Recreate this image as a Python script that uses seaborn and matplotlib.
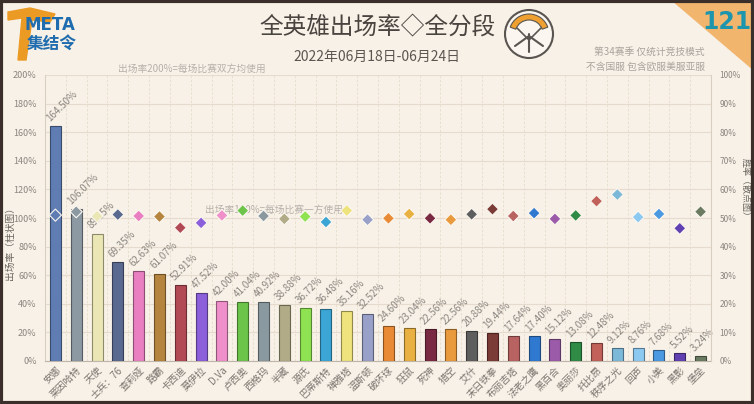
import numpy as np
import pandas as pd
import matplotlib
matplotlib.use("Agg")
import matplotlib.pyplot as plt
import matplotlib.patches as mpatches
from matplotlib.colors import to_rgb
import seaborn as sns

heroes = ["安娜", "莱因哈特", "天使", "士兵：76", "查莉娅", "路霸", "卡西迪", "莫伊拉", "D.Va", "卢西奥",
          "西格玛", "半藏", "源氏", "巴蒂斯特", "禅雅塔", "温斯顿", "破坏球", "狂鼠", "死神", "猎空",
          "艾什", "末日铁拳", "布丽吉塔", "法老之鹰", "黑百合", "奥丽莎", "托比昂", "秩序之光", "回声", "小美",
          "黑影", "堡垒"]
pick_rate = [164.50, 106.07, 89.15, 69.35, 62.63, 61.07, 52.91, 47.52, 42.00, 41.04,
             40.92, 38.88, 36.72, 36.48, 35.16, 32.52, 24.60, 23.04, 22.56, 22.56,
             20.88, 19.44, 17.64, 17.40, 15.12, 13.08, 12.48, 9.12, 8.76, 7.68,
             5.52, 3.24]
win_rate = [51.0, 52.2, 50.6, 51.2, 50.7, 50.5, 46.6, 48.3, 50.9, 52.6,
            50.7, 49.7, 50.5, 48.6, 52.6, 49.4, 49.9, 51.4, 49.9, 49.4,
            51.3, 53.1, 50.7, 51.7, 49.7, 50.9, 55.9, 58.2, 50.3, 51.4,
            46.4, 52.2]
colors = ["#5f7db3", "#8d99a2", "#ebe7b4", "#5a6990", "#e97fc0", "#b58540", "#b24a56", "#8b60da", "#ef90ca", "#6cc44b",
          "#8a98a0", "#b1ab87", "#8fe252", "#3ba6d6", "#eee37c", "#99a1c9", "#e98b36", "#e9b142", "#7a2942", "#e99a3c",
          "#5e5e5e", "#7b3b36", "#b96262", "#3079d0", "#9b5ba9", "#2f8b46", "#c1615a", "#7cb9d9", "#8cc9f1", "#4a99e1",
          "#6141b1", "#6b7b62"]
left_ticks = [0, 20, 40, 60, 80, 100, 120, 140, 160, 180, 200]
right_ticks = [0, 10, 20, 30, 40, 50, 60, 70, 80, 90, 100]

BG = "#f8f1e7"
sns.set_theme(style="white")
plt.rcParams["font.family"] = ["Noto Sans CJK SC", "DejaVu Sans"]

df = pd.DataFrame({"hero": heroes, "pick": pick_rate, "win": win_rate})
df["pos"] = np.arange(len(df))

fig = plt.figure(figsize=(7.54, 4.04), dpi=100, facecolor=BG)
ax = fig.add_axes([45 / 754, 43 / 404, 666 / 754, 286 / 404])
ax.set_facecolor(BG)

sns.barplot(data=df, x="hero", y="pick", hue="hero", palette=colors, legend=False,
            width=0.53, saturation=1, ax=ax, zorder=3)
for p, c in zip(ax.patches, colors):
    r, g, b = to_rgb(c)
    p.set_edgecolor((r * 0.6, g * 0.6, b * 0.6))
    p.set_linewidth(0.8)

ax.set_xlim(-0.5, len(heroes) - 0.5)
ax.set_ylim(0, 200)
ax.set_yticks(left_ticks)
ax.set_yticklabels([f"{t}%" for t in left_ticks], fontsize=6.5, color="#8a8580")
ax.set_xticks(range(len(heroes)))
ax.set_xticklabels(heroes, rotation=45, ha="right", rotation_mode="anchor", fontsize=7, color="#7a7570")
ax.tick_params(axis="x", length=0, pad=3)
ax.tick_params(axis="y", length=0, pad=6)
ax.set_xlabel("")
ax.set_ylabel("出场率（柱状图）", fontsize=7, color="#6a6560")
ax.yaxis.set_label_coords(-0.045, 0.42)

# grid
for t in left_ticks:
    ax.axhline(t, color="#e6dccd", lw=0.8, zorder=0)
for k in range(len(heroes) + 1):
    ax.axvline(k - 0.5, color="#e6dccd", lw=0.6, ls=(0, (3, 2)), zorder=0)
for s in ["top", "right"]:
    ax.spines[s].set_visible(False)
ax.spines["left"].set_color("#d8cfc2")
ax.spines["bottom"].set_color("#bdb5aa")
ax.spines["left"].set_linewidth(0.8)
ax.spines["bottom"].set_linewidth(0.8)

for i, v in enumerate(pick_rate):
    ax.annotate(f"{v:.2f}%", (i, v), xytext=(-8, 2), textcoords="offset points",
                rotation=45, ha="left", va="bottom", fontsize=7, color="#8a8580", zorder=5)

ax.text(3.0, 200.5, "出场率200%=每场比赛双方均使用", fontsize=7, color="#b5b0aa", va="bottom", ha="left")
ax.text(7.2, 102, "出场率100%=每场比赛一方使用", fontsize=7, color="#b5b0aa", va="bottom", ha="left", zorder=2)

ax2 = ax.twinx()
sns.scatterplot(data=df, x="pos", y="win", hue="hero", palette=colors, legend=False,
                marker="D", s=38, edgecolor="#fbf7f0", linewidth=0.8, ax=ax2, zorder=6)
ax2.set_ylim(0, 100)
ax2.set_xlim(-0.5, len(heroes) - 0.5)
ax2.set_yticks(right_ticks)
ax2.set_yticklabels([f"{t}%" for t in right_ticks], fontsize=6, color="#8a8580")
ax2.tick_params(axis="y", length=0, pad=6)
ax2.set_ylabel("胜率（散点图）", fontsize=6.5, color="#6a6560", rotation=-90, va="center")
ax2.yaxis.set_label_coords(1.052, 0.6)
ax2.set_xlabel("")
for s in ["top", "left", "bottom"]:
    ax2.spines[s].set_visible(False)
ax2.spines["right"].set_color("#d8cfc2")
ax2.spines["right"].set_linewidth(0.8)
ax2.grid(False)

# titles
fig.text(378 / 754, 1 - 28 / 404, "全英雄出场率◇全分段", fontsize=17, color="#4a4440", ha="center", va="center")
fig.text(377 / 754, 1 - 57 / 404, "2022年06月18日-06月24日", fontsize=10, color="#5a5550", ha="center", va="center")
fig.text(705 / 754, 1 - 52 / 404, "第34赛季 仅统计竞技模式", fontsize=7, color="#a8a39d", ha="right", va="center")
fig.text(705 / 754, 1 - 67 / 404, "不含国服 包含欧服美服亚服", fontsize=7, color="#a8a39d", ha="right", va="center")

# overlay for decorations in pixel coords
ov = fig.add_axes([0, 0, 1, 1], facecolor="none")
ov.set_xlim(0, 754)
ov.set_ylim(404, 0)
ov.axis("off")
# top-right triangle
ov.add_patch(mpatches.Polygon([[672, 0], [754, 0], [754, 70]], closed=True, color="#f2b56e", zorder=1))
ov.text(727, 22, "121", fontsize=17, fontweight="bold", color="#1d95ad", ha="center", va="center",
        family="DejaVu Sans", zorder=2)
# overwatch-like emblem
ov.add_patch(mpatches.Circle((529, 34), 24, facecolor="#fbf7f0", edgecolor="#5a5550", lw=1.5, zorder=1))
ov.add_patch(mpatches.Wedge((529, 34), 20, 200, 340, width=6, facecolor="#f0a030", edgecolor="#5a5550", lw=0.8, zorder=2))
ov.plot([529, 529], [34, 52], color="#5a5550", lw=1.5, zorder=3)
ov.plot([515, 529, 543], [46, 36, 46], color="#5a5550", lw=1.5, zorder=3)
ov.plot([517, 529, 541], [28, 40, 28], color="#5a5550", lw=1.2, zorder=3)
# META logo
ov.add_patch(mpatches.Polygon([[8, 12], [30, 8], [55, 14], [50, 22], [32, 20], [26, 60], [18, 60], [22, 18], [8, 20]],
                              closed=True, color="#eb9a24", zorder=1))
ov.text(50, 25, "META", fontsize=12, fontweight="bold", color="#1f6cae", ha="center", va="center",
        family="DejaVu Sans", zorder=2)
ov.text(52, 44, "集结令", fontsize=12, fontweight="bold", color="#1f6cae", ha="center", va="center", zorder=2)
# frame
ov.add_patch(mpatches.Rectangle((1, 1), 752, 402, fill=False, edgecolor="#3a2f2a", lw=3, zorder=10))

fig.savefig("out.png", dpi=100, facecolor=BG)
